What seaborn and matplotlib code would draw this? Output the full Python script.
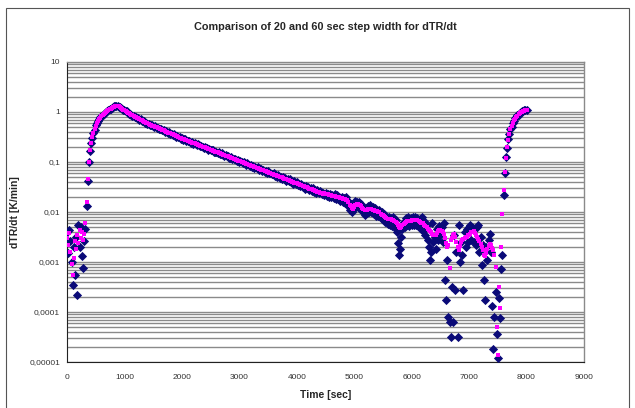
import numpy as np
import matplotlib
matplotlib.use("Agg")
import matplotlib.pyplot as plt
import seaborn as sns
import pandas as pd
from matplotlib.ticker import FixedLocator, FixedFormatter, LogLocator, NullFormatter
from matplotlib.patches import Rectangle

# sample times, 20 s spacing for both series
time_sec = np.arange(0, 8001, 20)

# dTR/dt [K/min], derivative with 20 s step width (navy diamonds)
dtr_20s = [
    4.0e-3, 1.5e-3, 4.4e-3, 2.6e-3, 1.0e-3, 3.4e-4, 2.0e-3, 5.6e-4, 3.2e-3, 2.2e-4,   # 0-180
    5.5e-3, 2.0e-3, 5.0e-3, 1.3e-3, 7.7e-4, 2.6e-3, 4.5e-3, 1.3e-2, 4.2e-2, 0.098,    # 200-380
    0.165, 0.245, 0.30, 0.385, 0.44, 0.54, 0.59, 0.67, 0.71, 0.78,                    # 400-580
    0.81, 0.88, 0.91, 0.97, 0.99, 1.06, 1.08, 1.14, 1.16, 1.22,                       # 600-780
    1.24, 1.29, 1.30, 1.33, 1.30, 1.28, 1.25, 1.19, 1.17, 1.11,                       # 800-980
    1.09, 1.03, 1.03, 0.967, 0.916, 0.930, 0.876, 0.835, 0.844, 0.795,                # 1000-1180
    0.805, 0.751, 0.750, 0.701, 0.722, 0.674, 0.649, 0.656, 0.605, 0.613,             # 1200-1380
    0.577, 0.587, 0.545, 0.556, 0.553, 0.515, 0.508, 0.516, 0.475, 0.489,             # 1400-1580
    0.454, 0.462, 0.460, 0.428, 0.427, 0.400, 0.415, 0.402, 0.377, 0.391,             # 1600-1780
    0.365, 0.370, 0.344, 0.357, 0.336, 0.318, 0.330, 0.316, 0.318, 0.293,             # 1800-1980
    0.301, 0.280, 0.286, 0.288, 0.267, 0.258, 0.269, 0.252, 0.240, 0.250,             # 2000-2180
    0.233, 0.242, 0.228, 0.216, 0.225, 0.218, 0.206, 0.213, 0.199, 0.191,             # 2200-2380
    0.201, 0.187, 0.189, 0.176, 0.186, 0.171, 0.172, 0.174, 0.160, 0.160,             # 2400-2580
    0.161, 0.149, 0.157, 0.146, 0.142, 0.149, 0.139, 0.132, 0.137, 0.129,             # 2600-2780
    0.133, 0.122, 0.123, 0.126, 0.114, 0.117, 0.117, 0.108, 0.107, 0.109,             # 2800-2980
    0.102, 0.106, 0.098, 0.0935, 0.0993, 0.0953, 0.0888, 0.0942, 0.0869, 0.0843,      # 3000-3180
    0.0885, 0.0809, 0.0825, 0.0760, 0.0806, 0.0752, 0.0790, 0.0707, 0.0721, 0.0727,   # 3200-3380
    0.0664, 0.0705, 0.0644, 0.0663, 0.0605, 0.0655, 0.0599, 0.0616, 0.0563, 0.0580,   # 3400-3580
    0.0590, 0.0523, 0.0551, 0.0512, 0.0549, 0.0487, 0.0512, 0.0457, 0.0495, 0.0458,   # 3600-3780
    0.0480, 0.0421, 0.0452, 0.0413, 0.0450, 0.0391, 0.0412, 0.0367, 0.0410, 0.0368,   # 3800-3980
    0.0394, 0.0339, 0.0370, 0.0332, 0.0369, 0.0315, 0.0338, 0.0295, 0.0337, 0.0296,   # 4000-4180
    0.0323, 0.0272, 0.0305, 0.0267, 0.0303, 0.0253, 0.0278, 0.0238, 0.0276, 0.0238,   # 4200-4380
    0.0263, 0.0251, 0.0224, 0.0245, 0.0219, 0.0240, 0.0209, 0.0234, 0.0200, 0.0229,   # 4400-4580
    0.0195, 0.0219, 0.0191, 0.0224, 0.0182, 0.0214, 0.0178, 0.0204, 0.0166, 0.0200,   # 4600-4780
    0.0158, 0.0191, 0.0151, 0.0195, 0.0141, 0.0166, 0.0112, 0.0145, 0.0100, 0.0110,   # 4800-4980
    0.0138, 0.0166, 0.0158, 0.0126, 0.0162, 0.0117, 0.0145, 0.0105, 0.0126, 0.0089,   # 5000-5180
    0.0120, 0.0095, 0.0132, 0.0102, 0.0135, 0.0100, 0.0126, 0.0091, 0.0120, 0.0085,   # 5200-5380
    0.0112, 0.0083, 0.0110, 0.0076, 0.0100, 0.0071, 0.0093, 0.0063, 0.0083, 0.0058,   # 5400-5580
    0.0079, 0.0056, 0.0076, 0.0052, 0.0078, 0.0050, 0.0069, 0.0040, 0.0024, 0.0014,   # 5600-5780
    0.0018, 0.0032, 0.0045, 0.0063, 0.0050, 0.0076, 0.0056, 0.0079, 0.0052, 0.0076,   # 5800-5980
    0.0055, 0.0078, 0.0054, 0.0079, 0.0056, 0.0076, 0.0050, 0.0071, 0.0045, 0.0081,   # 6000-6180
    0.0042, 0.0066, 0.0035, 0.0056, 0.0028, 0.0020, 0.0011, 0.0016, 0.0059, 0.0025,   # 6200-6380
    0.0032, 0.0018, 0.0045, 0.0028, 0.0052, 0.0035, 0.0050, 0.0025, 0.0059, 4.4e-4,   # 6400-6580
    1.7e-4, 0.0011, 7.8e-5, 6.2e-5, 3.2e-5, 3.2e-4, 6.2e-5, 0.0035, 2.8e-4, 0.0016,   # 6600-6780
    3.1e-5, 0.0055, 0.0010, 0.0025, 0.0014, 2.8e-4, 0.0040, 0.0020, 0.0045, 0.0025,   # 6800-6980
    0.0050, 0.0055, 0.0028, 0.0048, 0.0025, 0.0045, 0.0022, 0.0050, 0.0055, 0.0016,   # 7000-7180
    0.0032, 8.9e-4, 0.0022, 4.4e-4, 1.7e-4, 0.0020, 0.0011, 0.0028, 0.0037, 0.0016,   # 7200-7380
    1.3e-4, 1.8e-5, 7.9e-5, 2.5e-4, 3.7e-5, 1.2e-5, 1.9e-4, 7.6e-5, 7.1e-4, 0.0014,   # 7400-7580
    0.022, 0.060, 0.125, 0.19, 0.29, 0.36, 0.46, 0.51, 0.61, 0.67,                    # 7600-7780
    0.75, 0.78, 0.86, 0.89, 0.95, 0.98, 1.03, 1.04, 1.08, 1.09,                       # 7800-7980
    1.11,                                                                             # 8000
]

# dTR/dt [K/min], derivative with 60 s step width (magenta squares)
dtr_60s = [
    3.0e-3, 2.2e-3, 3.8e-3, 1.6e-3, 9.0e-4, 5.6e-4, 1.2e-3, 2.6e-3, 1.8e-3, 3.5e-3,   # 0-180
    2.4e-3, 4.4e-3, 3.0e-3, 4.0e-3, 2.8e-3, 3.6e-3, 6.0e-3, 1.6e-2, 4.5e-2, 0.10,     # 200-380
    0.17, 0.24, 0.31, 0.38, 0.45, 0.53, 0.60, 0.66, 0.72, 0.77,                       # 400-580
    0.82, 0.87, 0.92, 0.96, 1.00, 1.05, 1.09, 1.13, 1.17, 1.21,                       # 600-780
    1.25, 1.28, 1.31, 1.32, 1.31, 1.29, 1.245, 1.20, 1.16, 1.12,                      # 800-980
    1.08, 1.05, 1.01, 0.977, 0.944, 0.912, 0.885, 0.861, 0.836, 0.811,                # 1000-1180
    0.789, 0.766, 0.743, 0.723, 0.701, 0.681, 0.662, 0.643, 0.624, 0.607,             # 1200-1380
    0.589, 0.575, 0.562, 0.550, 0.537, 0.525, 0.513, 0.501, 0.490, 0.479,             # 1400-1580
    0.468, 0.457, 0.447, 0.437, 0.427, 0.417, 0.407, 0.398, 0.389, 0.380,             # 1600-1780
    0.372, 0.363, 0.355, 0.347, 0.339, 0.331, 0.324, 0.316, 0.309, 0.302,             # 1800-1980
    0.295, 0.289, 0.283, 0.277, 0.272, 0.266, 0.261, 0.255, 0.250, 0.245,             # 2000-2180
    0.240, 0.235, 0.230, 0.225, 0.221, 0.216, 0.212, 0.207, 0.203, 0.199,             # 2200-2380
    0.195, 0.191, 0.187, 0.183, 0.179, 0.176, 0.172, 0.169, 0.165, 0.162,             # 2400-2580
    0.158, 0.155, 0.152, 0.149, 0.146, 0.143, 0.140, 0.137, 0.134, 0.132,             # 2600-2780
    0.129, 0.126, 0.124, 0.121, 0.119, 0.116, 0.114, 0.111, 0.109, 0.107,             # 2800-2980
    0.105, 0.103, 0.100, 0.0984, 0.0964, 0.0944, 0.0925, 0.0906, 0.0887, 0.0869,      # 3000-3180
    0.0851, 0.0834, 0.0817, 0.0800, 0.0783, 0.0767, 0.0752, 0.0736, 0.0721, 0.0706,   # 3200-3380
    0.0692, 0.0678, 0.0664, 0.0650, 0.0637, 0.0624, 0.0611, 0.0598, 0.0586, 0.0574,   # 3400-3580
    0.0562, 0.0551, 0.0545, 0.0535, 0.0518, 0.0505, 0.0497, 0.0490, 0.0478, 0.0465,   # 3600-3780
    0.0457, 0.0450, 0.0441, 0.0428, 0.0419, 0.0412, 0.0406, 0.0395, 0.0385, 0.0379,   # 3800-3980
    0.0374, 0.0366, 0.0356, 0.0347, 0.0342, 0.0337, 0.0328, 0.0319, 0.0315, 0.0310,   # 4000-4180
    0.0302, 0.0294, 0.0290, 0.0286, 0.0278, 0.0270, 0.0267, 0.0263, 0.0256, 0.0249,   # 4200-4380
    0.0245, 0.0243, 0.0240, 0.0234, 0.0237, 0.0229, 0.0224, 0.0226, 0.0219, 0.0216,   # 4400-4580
    0.0214, 0.0211, 0.0209, 0.0207, 0.0204, 0.0204, 0.0200, 0.0195, 0.0191, 0.0188,   # 4600-4780
    0.0186, 0.0182, 0.0178, 0.0176, 0.0174, 0.0158, 0.0141, 0.0129, 0.0120, 0.0117,   # 4800-4980
    0.0126, 0.0138, 0.0145, 0.0143, 0.0141, 0.0138, 0.0132, 0.0123, 0.0115, 0.0110,   # 5000-5180
    0.0110, 0.0112, 0.0115, 0.0117, 0.0117, 0.0115, 0.0112, 0.0110, 0.0107, 0.0105,   # 5200-5380
    0.0105, 0.0102, 0.0098, 0.0093, 0.0089, 0.0087, 0.0083, 0.0079, 0.0076, 0.0074,   # 5400-5580
    0.0072, 0.0072, 0.0071, 0.0070, 0.0069, 0.0066, 0.0063, 0.0060, 0.0055, 0.0050,   # 5600-5780
    0.0047, 0.0050, 0.0054, 0.0058, 0.0060, 0.0063, 0.0065, 0.0065, 0.0066, 0.0067,   # 5800-5980
    0.0068, 0.0068, 0.0069, 0.0069, 0.0070, 0.0069, 0.0066, 0.0063, 0.0060, 0.0060,   # 6000-6180
    0.0059, 0.0056, 0.0052, 0.0049, 0.0046, 0.0044, 0.0042, 0.0040, 0.0037, 0.0035,   # 6200-6380
    0.0034, 0.0035, 0.0038, 0.0041, 0.0043, 0.0044, 0.0042, 0.0040, 0.0037, 0.0030,   # 6400-6580
    0.0024, 0.0020, 0.0022, 7.6e-4, 0.0028, 0.0030, 0.0035, 0.0037, 0.0032, 0.0025,   # 6600-6780
    0.0020, 0.0017, 0.0021, 0.0025, 0.0028, 0.0029, 0.0030, 0.0032, 0.0032, 0.0034,   # 6800-6980
    0.0035, 0.0037, 0.0039, 0.0040, 0.0041, 0.0038, 0.0035, 0.0032, 0.0029, 0.0026,   # 7000-7180
    0.0023, 0.0020, 0.0017, 0.0014, 0.0013, 0.0015, 0.0018, 0.0021, 0.0023, 0.0022,   # 7200-7380
    0.0019, 0.0017, 0.0014, 8.1e-4, 4.9e-5, 1.4e-5, 3.2e-4, 1.2e-4, 0.0020, 0.0093,   # 7400-7580
    0.028, 0.063, 0.12, 0.20, 0.28, 0.37, 0.45, 0.52, 0.60, 0.68,                     # 7600-7780
    0.74, 0.79, 0.85, 0.90, 0.94, 0.99, 1.02, 1.05, 1.07, 1.10,                       # 7800-7980
    1.12,                                                                             # 8000
]

x_ticks = [0, 1000, 2000, 3000, 4000, 5000, 6000, 7000, 8000, 9000]
y_ticks = [1e-5, 1e-4, 1e-3, 1e-2, 1e-1, 1, 10]
y_tick_labels = ["0,00001", "0,0001", "0,001", "0,01", "0,1", "1", "10"]

df = pd.DataFrame({"time": time_sec, "dtr20": dtr_20s, "dtr60": dtr_60s})

sns.set_style("white")
plt.rcParams["font.family"] = ["Liberation Sans", "DejaVu Sans"]

fig = plt.figure(figsize=(6.35, 4.08), dpi=100)
ax = fig.add_axes([67 / 635, 1 - 362 / 408, (584 - 67) / 635, 300 / 408])

# chart area frame
fig.patches.append(Rectangle((6 / 635, -0.05), 623 / 635, 1.05 - 8 / 408,
                             transform=fig.transFigure, fill=False,
                             edgecolor="#555555", lw=0.8, zorder=0))

ax.set_yscale("log")
ax.set_xlim(0, 9000)
ax.set_ylim(1e-5, 10)

ax.yaxis.set_major_locator(FixedLocator(y_ticks))
ax.yaxis.set_major_formatter(FixedFormatter(y_tick_labels))
ax.yaxis.set_minor_locator(LogLocator(base=10, subs=np.arange(2, 10)))
ax.yaxis.set_minor_formatter(NullFormatter())
ax.set_xticks(x_ticks)
ax.set_xticklabels([str(v) for v in x_ticks])

ax.yaxis.grid(True, which="both", color="#8a8a8a", lw=1.0)
ax.xaxis.grid(False)
ax.set_axisbelow(True)

sns.scatterplot(data=df, x="time", y="dtr20", marker="D", s=22, color="#0a0a78",
                linewidth=0, ax=ax, zorder=3, legend=False)
sns.scatterplot(data=df, x="time", y="dtr60", marker="s", s=10, color="#ff00ff",
                linewidth=0, ax=ax, zorder=4, legend=False)

for side in ["left", "bottom"]:
    ax.spines[side].set_color("#222222")
    ax.spines[side].set_linewidth(0.8)
for side in ["top", "right"]:
    ax.spines[side].set_color("#8a8a8a")
    ax.spines[side].set_linewidth(1.0)

ax.tick_params(axis="x", which="major", direction="inout", length=5, width=0.7,
               color="#222222", labelsize=6, labelcolor="#333333", pad=6)
ax.tick_params(axis="y", which="major", direction="out", length=3, width=0.7,
               color="#222222", labelsize=6, labelcolor="#333333", pad=2)
ax.tick_params(axis="y", which="minor", length=0)

ax.set_xlabel("Time [sec]", fontsize=7.5, fontweight="bold")
ax.set_ylabel("dTR/dt [K/min]", fontsize=7.5, fontweight="bold")
ax.xaxis.set_label_coords(0.5, -0.095)
ax.yaxis.set_label_coords(-0.09, 0.5)
fig.text(0.5 * (67 + 584) / 635, 1 - 27 / 408, "Comparison of 20 and 60 sec step width for dTR/dt",
         ha="center", va="center", fontsize=7.8, fontweight="bold")

fig.savefig("out.png", dpi=100)
plt.close(fig)
